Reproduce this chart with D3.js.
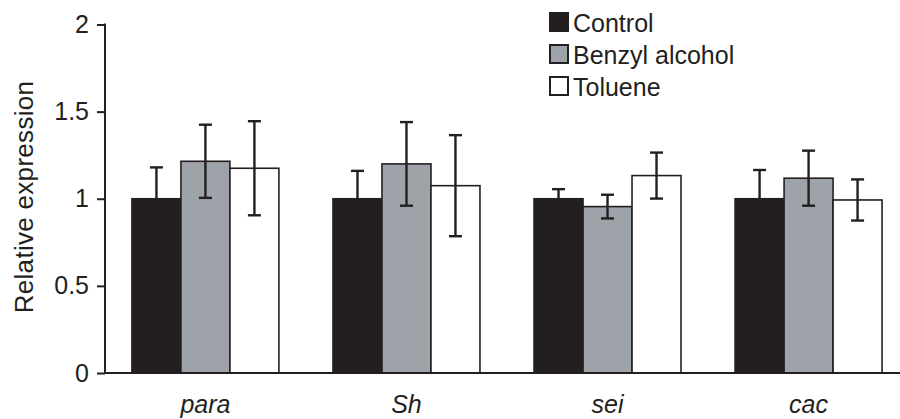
<!DOCTYPE html>
<html>
<head>
<meta charset="utf-8">
<script src="https://cdn.jsdelivr.net/npm/d3@7"></script>
<style>
  body { margin: 0; background: #fff; }
  text { font-family: "Liberation Sans", Arial, sans-serif; fill: #231f20; }
</style>
</head>
<body>
<script>
var genes = ["para", "Sh", "sei", "cac"];
var treatments = ["Control", "Benzyl alcohol", "Toluene"];
var fills = ["#231f20", "#9da3a9", "#ffffff"];

// mean and error per treatment, in gene order
var controlMean = [1.0, 1.0, 1.0, 1.0];
var controlErr  = [0.18, 0.16, 0.055, 0.165];
var benzylMean  = [1.215, 1.2, 0.955, 1.118];
var benzylErr   = [0.21, 0.24, 0.068, 0.158];
var tolueneMean = [1.175, 1.075, 1.133, 0.993];
var tolueneErr  = [0.27, 0.29, 0.132, 0.118];

var yTicks = [0, 0.5, 1, 1.5, 2];

var means = [controlMean, benzylMean, tolueneMean];
var errs = [controlErr, benzylErr, tolueneErr];

var rows = [];
genes.forEach(function(g, gi){
  treatments.forEach(function(t, ti){
    rows.push({gene: g, treat: t, ti: ti, v: means[ti][gi], e: errs[ti][gi]});
  });
});

var width = 900, height = 419;
var ink = "#231f20";
var fs = 25;

var svg = d3.select("body").append("svg")
    .attr("width", width)
    .attr("height", height);

var x = d3.scaleBand()
    .domain(genes)
    .range([105, 909])
    .paddingInner(0.269)
    .paddingOuter(0.134);

var xSub = d3.scaleBand()
    .domain(treatments)
    .range([0, x.bandwidth()]);

var y = d3.scaleLinear()
    .domain([0, 2])
    .range([373, 24.5]);

// bars
svg.selectAll("rect.bar")
    .data(rows)
    .enter().append("rect")
    .attr("class", "bar")
    .attr("x", function(d){ return x(d.gene) + xSub(d.treat); })
    .attr("y", function(d){ return y(d.v); })
    .attr("width", xSub.bandwidth())
    .attr("height", function(d){ return y(0) - y(d.v); })
    .attr("fill", function(d){ return fills[d.ti]; })
    .attr("stroke", ink)
    .attr("stroke-width", 1.6);

// error bars
var eb = svg.selectAll("g.err")
    .data(rows)
    .enter().append("g")
    .attr("class", "err")
    .attr("stroke", ink)
    .attr("stroke-width", 2.4);

function cx(d){ return x(d.gene) + xSub(d.treat) + xSub.bandwidth() / 2; }

eb.append("line")
    .attr("x1", cx).attr("x2", cx)
    .attr("y1", function(d){ return y(d.v + d.e); })
    .attr("y2", function(d){ return y(d.v - d.e); });
eb.append("line")
    .attr("x1", function(d){ return cx(d) - 6.5; })
    .attr("x2", function(d){ return cx(d) + 6.5; })
    .attr("y1", function(d){ return y(d.v + d.e); })
    .attr("y2", function(d){ return y(d.v + d.e); });
eb.append("line")
    .attr("x1", function(d){ return cx(d) - 6.5; })
    .attr("x2", function(d){ return cx(d) + 6.5; })
    .attr("y1", function(d){ return y(d.v - d.e); })
    .attr("y2", function(d){ return y(d.v - d.e); });

// y axis
var yAxis = d3.axisLeft(y)
    .tickValues(yTicks)
    .tickFormat(d3.format("~g"))
    .tickSize(8)
    .tickPadding(8);

var gy = svg.append("g")
    .attr("transform", "translate(105,0)")
    .call(yAxis);
gy.select(".domain").remove();
gy.selectAll(".tick line").attr("stroke", ink).attr("stroke-width", 2);
gy.selectAll(".tick text")
    .attr("font-size", fs)
    .attr("fill", ink)
    .style("font-family", "Liberation Sans, Arial, sans-serif");

svg.append("line")
    .attr("x1", 105).attr("x2", 105)
    .attr("y1", y(2) - 1).attr("y2", y(0))
    .attr("stroke", ink).attr("stroke-width", 2);

// baseline
svg.append("line")
    .attr("x1", 104).attr("x2", 900)
    .attr("y1", y(0)).attr("y2", y(0))
    .attr("stroke", ink).attr("stroke-width", 2);

// x labels
svg.selectAll("text.gene")
    .data(genes)
    .enter().append("text")
    .attr("class", "gene")
    .attr("x", function(d){ return x(d) + x.bandwidth() / 2; })
    .attr("y", 413)
    .attr("text-anchor", "middle")
    .attr("font-size", fs)
    .attr("font-style", "italic")
    .text(function(d){ return d; });

// y label
svg.append("text")
    .attr("transform", "translate(33,197) rotate(-90)")
    .attr("text-anchor", "middle")
    .attr("font-size", 26)
    .attr("letter-spacing", 0.3)
    .text("Relative expression");

// legend
var lg = svg.selectAll("g.legend")
    .data(treatments)
    .enter().append("g")
    .attr("class", "legend")
    .attr("transform", function(d, i){ return "translate(550," + (13 + i * 32) + ")"; });

lg.append("rect")
    .attr("width", 18)
    .attr("height", 18)
    .attr("fill", function(d, i){ return fills[i]; })
    .attr("stroke", ink)
    .attr("stroke-width", 2);

lg.append("text")
    .attr("x", 23)
    .attr("y", 18.5)
    .attr("font-size", fs)
    .text(function(d){ return d; });
</script>
</body>
</html>
